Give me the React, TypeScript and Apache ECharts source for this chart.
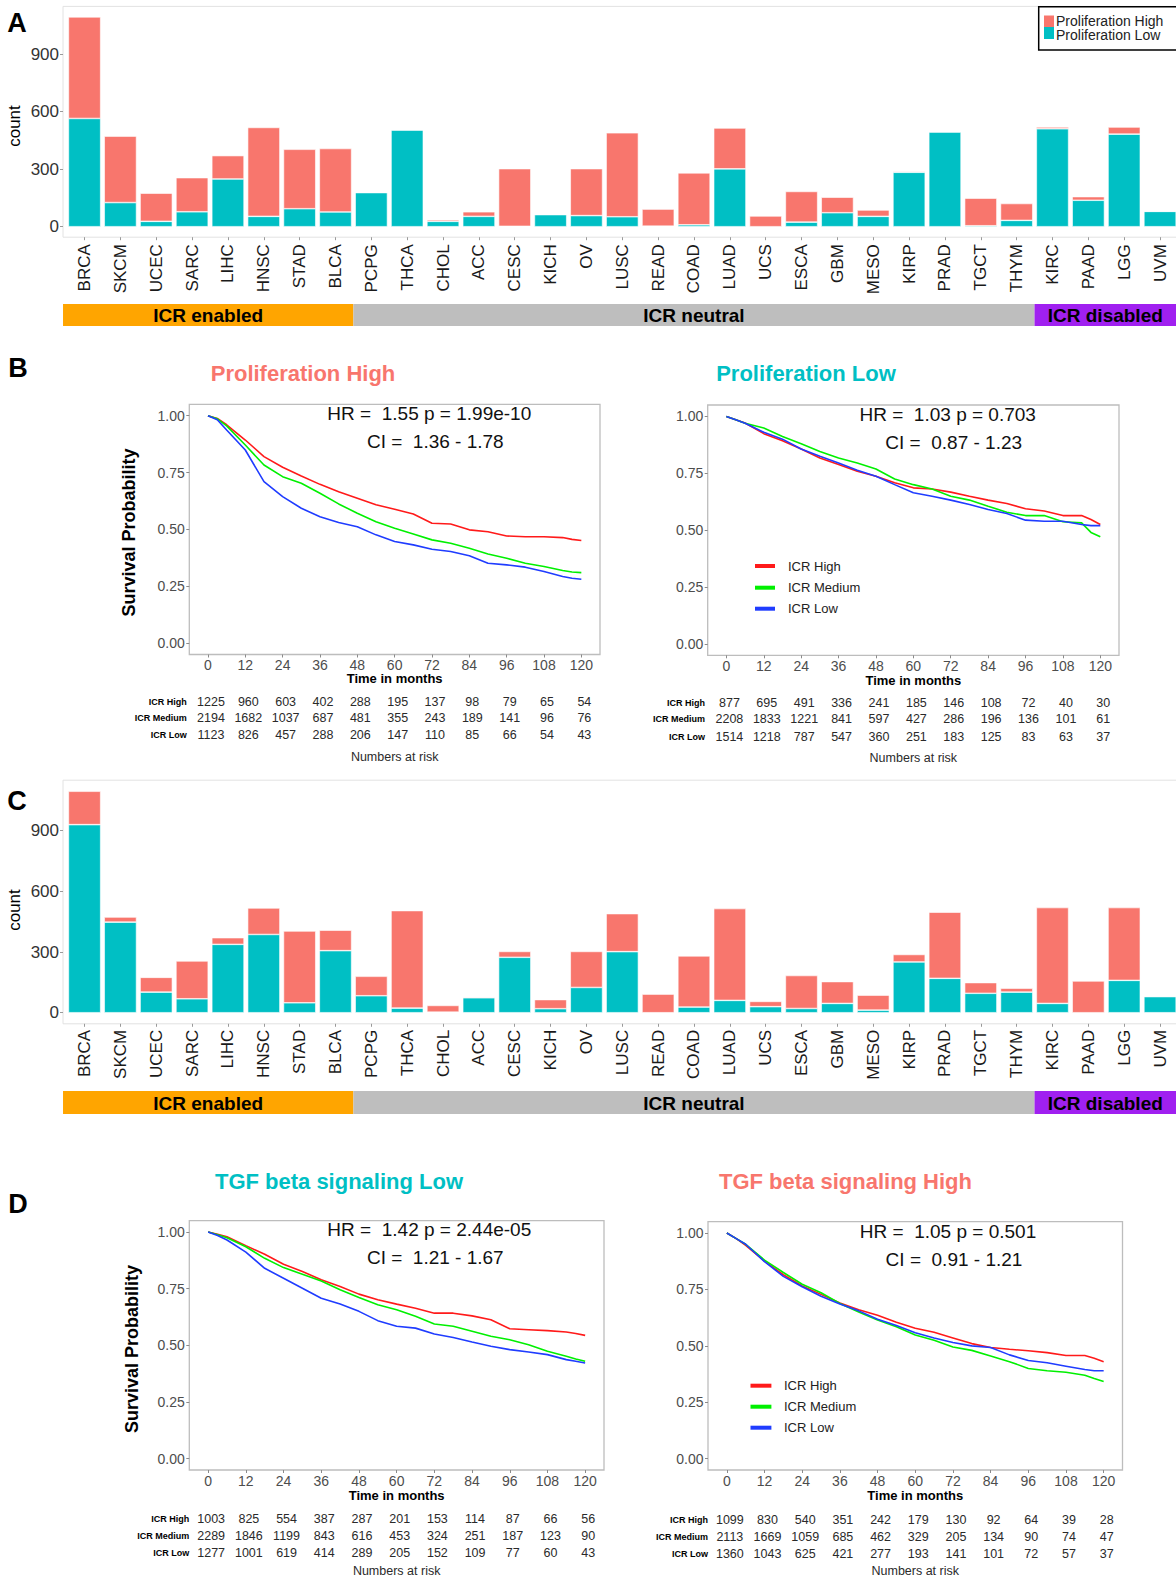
import React, { useEffect, useRef } from "react";
import * as echarts from "echarts";

// ---------------- DATA ----------------
const cancerTypes = [
  "BRCA", "SKCM", "UCEC", "SARC", "LIHC", "HNSC", "STAD", "BLCA", "PCPG", "THCA", "CHOL",
  "ACC", "CESC", "KICH", "OV", "LUSC", "READ", "COAD", "LUAD", "UCS", "ESCA", "GBM",
  "MESO", "KIRP", "PRAD", "TGCT", "THYM", "KIRC", "PAAD", "LGG", "UVM",
];
// Panel A: Proliferation
const profLow = [565, 126, 28, 78, 249, 54, 94, 77, 178, 505, 28, 54, 2, 63, 58, 52, 3, 10, 302, 0, 24, 73, 54, 284, 494, 5, 33, 511, 138, 483, 80];
const profHigh = [530, 347, 147, 178, 122, 464, 310, 331, 2, 0, 8, 24, 301, 2, 245, 438, 89, 271, 213, 56, 160, 81, 33, 4, 3, 144, 88, 9, 19, 37, 0];
// Panel C: TGF beta signaling
const tgfLow = [930, 448, 102, 69, 338, 387, 49, 307, 84, 23, 3, 74, 274, 20, 125, 302, 0, 28, 61, 30, 21, 46, 13, 251, 170, 96, 102, 46, 0, 160, 80];
const tgfHigh = [165, 25, 73, 187, 33, 131, 355, 101, 96, 482, 33, 4, 29, 45, 178, 188, 92, 253, 454, 26, 163, 108, 74, 37, 327, 53, 19, 474, 157, 360, 0];

const countTicks = [0, 300, 600, 900];
const icrGroups = [
  { label: "ICR enabled", from: 0, to: 8, color: "#FFA500" },
  { label: "ICR neutral", from: 8, to: 27, color: "#BEBEBE" },
  { label: "ICR disabled", from: 27, to: 31, color: "#A020F0" },
];

// Kaplan-Meier curves (time in months)
const kmTimes = [0, 3, 6, 12, 18, 24, 30, 36, 42, 48, 54, 60, 66, 72, 78, 84, 90, 96, 102, 108, 114, 117, 120];
const timeTicks = [0, 12, 24, 36, 48, 60, 72, 84, 96, 108, 120];
const probTicks = [0, 0.25, 0.5, 0.75, 1];

const bLeftHigh = [1, 0.988, 0.96, 0.893, 0.82, 0.773, 0.735, 0.698, 0.666, 0.637, 0.608, 0.589, 0.568, 0.527, 0.524, 0.498, 0.49, 0.471, 0.468, 0.468, 0.464, 0.456, 0.451];
const bLeftMed = [1, 0.986, 0.955, 0.871, 0.783, 0.732, 0.703, 0.659, 0.612, 0.571, 0.534, 0.505, 0.48, 0.454, 0.439, 0.417, 0.392, 0.373, 0.351, 0.337, 0.319, 0.313, 0.31];
const bLeftLow = [1, 0.982, 0.937, 0.849, 0.71, 0.644, 0.593, 0.556, 0.53, 0.512, 0.476, 0.447, 0.432, 0.413, 0.403, 0.384, 0.351, 0.344, 0.334, 0.315, 0.293, 0.285, 0.281];

const bRightHigh = [1, 0.985, 0.971, 0.924, 0.893, 0.857, 0.817, 0.788, 0.759, 0.737, 0.708, 0.686, 0.681, 0.667, 0.649, 0.632, 0.617, 0.594, 0.584, 0.564, 0.564, 0.547, 0.525];
const bRightMed = [1, 0.985, 0.97, 0.949, 0.912, 0.88, 0.846, 0.817, 0.795, 0.769, 0.725, 0.7, 0.681, 0.649, 0.632, 0.605, 0.579, 0.564, 0.564, 0.537, 0.532, 0.49, 0.471];
const bRightLow = [1, 0.985, 0.97, 0.93, 0.9, 0.857, 0.825, 0.795, 0.763, 0.737, 0.7, 0.664, 0.649, 0.632, 0.613, 0.591, 0.573, 0.544, 0.539, 0.539, 0.525, 0.52, 0.52];

const dLeftHigh = [1, 0.99, 0.979, 0.94, 0.902, 0.858, 0.826, 0.789, 0.76, 0.726, 0.701, 0.682, 0.664, 0.642, 0.642, 0.63, 0.613, 0.573, 0.569, 0.565, 0.559, 0.552, 0.544];
const dLeftMed = [1, 0.988, 0.975, 0.935, 0.884, 0.843, 0.814, 0.784, 0.745, 0.711, 0.679, 0.657, 0.628, 0.594, 0.584, 0.562, 0.54, 0.525, 0.503, 0.474, 0.452, 0.44, 0.43];
const dLeftLow = [1, 0.985, 0.965, 0.911, 0.84, 0.796, 0.752, 0.708, 0.682, 0.65, 0.609, 0.584, 0.576, 0.55, 0.535, 0.515, 0.496, 0.481, 0.471, 0.459, 0.437, 0.43, 0.422];

const dRightHigh = [1, 0.975, 0.945, 0.875, 0.815, 0.765, 0.728, 0.69, 0.66, 0.636, 0.605, 0.578, 0.56, 0.535, 0.51, 0.493, 0.485, 0.478, 0.47, 0.457, 0.457, 0.445, 0.43];
const dRightMed = [1, 0.975, 0.95, 0.88, 0.825, 0.773, 0.735, 0.688, 0.65, 0.614, 0.585, 0.548, 0.525, 0.495, 0.48, 0.455, 0.43, 0.4, 0.39, 0.383, 0.37, 0.355, 0.342];
const dRightLow = [1, 0.975, 0.95, 0.873, 0.808, 0.762, 0.72, 0.685, 0.655, 0.618, 0.59, 0.558, 0.535, 0.515, 0.5, 0.493, 0.46, 0.435, 0.425, 0.41, 0.395, 0.39, 0.39];

// Numbers at risk
const riskBLeft = [
  [1225, 960, 603, 402, 288, 195, 137, 98, 79, 65, 54],
  [2194, 1682, 1037, 687, 481, 355, 243, 189, 141, 96, 76],
  [1123, 826, 457, 288, 206, 147, 110, 85, 66, 54, 43],
];
const riskBRight = [
  [877, 695, 491, 336, 241, 185, 146, 108, 72, 40, 30],
  [2208, 1833, 1221, 841, 597, 427, 286, 196, 136, 101, 61],
  [1514, 1218, 787, 547, 360, 251, 183, 125, 83, 63, 37],
];
const riskDLeft = [
  [1003, 825, 554, 387, 287, 201, 153, 114, 87, 66, 56],
  [2289, 1846, 1199, 843, 616, 453, 324, 251, 187, 123, 90],
  [1277, 1001, 619, 414, 289, 205, 152, 109, 77, 60, 43],
];
const riskDRight = [
  [1099, 830, 540, 351, 242, 179, 130, 92, 64, 39, 28],
  [2113, 1669, 1059, 685, 462, 329, 205, 134, 90, 74, 47],
  [1360, 1043, 625, 421, 277, 193, 141, 101, 72, 57, 37],
];
const icrNames = ["ICR High", "ICR Medium", "ICR Low"];

// ---------------- STYLE / LAYOUT ----------------
const RED = "#F8766D";
const TEAL = "#00BFC4";
const KM_COLORS = ["#FF1A1A", "#00F000", "#1F3CFF"];
const FONT = "'Liberation Sans', Arial, Helvetica, sans-serif";

const CAT_W = 35.85;
const GRID_L = 66.6;
const Y_MIN = -54.75;
const Y_MAX = 1149.75;

const kmPanels = [
  {
    title: "Proliferation High", titleColor: RED, titleX: 303, titleY: 373,
    left: 189.3, top: 404.3, width: 410.7, height: 250.2,
    curves: [bLeftHigh, bLeftMed, bLeftLow], risk: riskBLeft,
    hr: "HR =  1.55 p = 1.99e-10", ci: "CI =  1.36 - 1.78",
    hrY: 413.3, ciY: 441.7, yTitle: [129.3, 532.5], legend: null,
    rowYs: [701.7, 718.3, 735], labelRight: 186.7, narY: 756.7, timY: 678.3,
  },
  {
    title: "Proliferation Low", titleColor: TEAL, titleX: 806, titleY: 373,
    left: 707.7, top: 405, width: 411.3, height: 250.3,
    curves: [bRightHigh, bRightMed, bRightLow], risk: riskBRight,
    hr: "HR =  1.03 p = 0.703", ci: "CI =  0.87 - 1.23",
    hrY: 414.3, ciY: 442.7, yTitle: null, legend: { x1: 755, x2: 775, tx: 788, ys: [566, 587.7, 608.7] },
    rowYs: [702.7, 719.3, 736.7], labelRight: 705, narY: 758.3, timY: 680,
  },
  {
    title: "TGF beta signaling Low", titleColor: TEAL, titleX: 339, titleY: 1181,
    left: 189.3, top: 1220.7, width: 414.7, height: 249.3,
    curves: [dLeftHigh, dLeftMed, dLeftLow], risk: riskDLeft,
    hr: "HR =  1.42 p = 2.44e-05", ci: "CI =  1.21 - 1.67",
    hrY: 1229, ciY: 1257.7, yTitle: [132.3, 1349], legend: null,
    rowYs: [1519.3, 1536, 1553.3], labelRight: 189.3, narY: 1570.5, timY: 1495,
  },
  {
    title: "TGF beta signaling High", titleColor: RED, titleX: 845.5, titleY: 1181,
    left: 708, top: 1221.7, width: 414.5, height: 248.3,
    curves: [dRightHigh, dRightMed, dRightLow], risk: riskDRight,
    hr: "HR =  1.05 p = 0.501", ci: "CI =  0.91 - 1.21",
    hrY: 1231, ciY: 1259.3, yTitle: null, legend: { x1: 750.5, x2: 771.4, tx: 784, ys: [1385.7, 1406.7, 1427.7] },
    rowYs: [1520.3, 1537.3, 1554], labelRight: 708, narY: 1570.8, timY: 1495.7,
  },
];

function txt(x: number, y: number, text: string, size: number, o: any = {}) {
  return {
    type: "text",
    x,
    y,
    rotation: o.rotation || 0,
    silent: true,
    z: 10,
    style: {
      text,
      fontSize: size,
      fontFamily: FONT,
      fontWeight: o.bold ? "bold" : "normal",
      fill: o.color || "#000",
      align: o.align || "center",
      verticalAlign: "middle",
    },
  };
}

function buildOption() {
  const grids: any[] = [];
  const xAxes: any[] = [];
  const yAxes: any[] = [];
  const series: any[] = [];
  const graphic: any[] = [];

  // ---- bar panels A and C ----
  const barPanels = [
    { top: 6.4, height: 230.8, low: profLow, high: profHigh, stack: "prof", labelMargin: 7, band: [304, 326], countY: 126 },
    { top: 780.2, height: 243.6, low: tgfLow, high: tgfHigh, stack: "tgf", labelMargin: 6, band: [1091, 1114], countY: 910 },
  ];
  barPanels.forEach((p, i) => {
    grids.push({ left: GRID_L, top: p.top, width: CAT_W * cancerTypes.length, height: p.height, outerBoundsMode: "none" });
    xAxes.push({
      type: "category", gridIndex: i, data: cancerTypes,
      axisLine: { show: false, onZero: false },
      axisTick: { show: true, alignWithLabel: true, length: 3, lineStyle: { color: "#9A9A9A" } },
      axisLabel: { rotate: 90, fontSize: 17, color: "#1A1A1A", fontFamily: FONT, margin: p.labelMargin, interval: 0 },
    });
    yAxes.push({
      type: "value", gridIndex: i, min: Y_MIN, max: Y_MAX, offset: 3.6,
      splitLine: { show: false },
      axisLine: { show: false, onZero: false },
      axisTick: { show: true, length: 3, customValues: countTicks, lineStyle: { color: "#9A9A9A" } },
      axisLabel: { customValues: countTicks, fontSize: 17, color: "#333", fontFamily: FONT, margin: 4 },
    });
    series.push({
      type: "bar", name: "Proliferation Low", xAxisIndex: i, yAxisIndex: i, stack: p.stack, data: p.low,
      barWidth: "90%", itemStyle: { color: TEAL, borderColor: "#fff", borderWidth: 0.6 },
    });
    series.push({
      type: "bar", name: "Proliferation High", xAxisIndex: i, yAxisIndex: i, stack: p.stack, data: p.high,
      barWidth: "90%", itemStyle: { color: RED, borderColor: "#fff", borderWidth: 0.6 },
    });
    const panelLeft = GRID_L - 0.1 * CAT_W;
    graphic.push({
      type: "rect", silent: true, z: 0,
      shape: { x: panelLeft, y: p.top, width: 1200, height: p.height },
      style: { fill: "none", stroke: "#E2E2E2", lineWidth: 1 },
    });
    // ICR bands
    icrGroups.forEach((g) => {
      const x0 = g.from === 0 ? panelLeft : GRID_L + g.from * CAT_W;
      const x1 = g.to === cancerTypes.length ? 1200 : GRID_L + g.to * CAT_W;
      graphic.push({
        type: "rect", silent: true, z: 5,
        shape: { x: x0, y: p.band[0], width: x1 - x0, height: p.band[1] - p.band[0] },
        style: { fill: g.color },
      });
      const cx = g.to === cancerTypes.length ? (x0 + 1176) / 2 : (x0 + x1) / 2;
      graphic.push(txt(cx, (p.band[0] + p.band[1]) / 2 + 0.5, g.label, 19, { bold: true }));
    });
    graphic.push(txt(14, p.countY, "count", 17, { rotation: Math.PI / 2 }));
  });

  // legend of panel A
  graphic.push({
    type: "rect", silent: true, z: 6,
    shape: { x: 1038.7, y: 6.7, width: 150, height: 43.3 },
    style: { fill: "#fff", stroke: "#000", lineWidth: 1.5 },
  });
  graphic.push({ type: "rect", silent: true, z: 7, shape: { x: 1044, y: 15.5, width: 10, height: 11.5 }, style: { fill: RED } });
  graphic.push({ type: "rect", silent: true, z: 7, shape: { x: 1044, y: 27, width: 10, height: 12 }, style: { fill: TEAL } });
  graphic.push(txt(1056, 21, "Proliferation High", 14, { align: "left", color: "#222" }));
  graphic.push(txt(1056, 35, "Proliferation Low", 14, { align: "left", color: "#222" }));

  // panel letters
  graphic.push(txt(17, 23, "A", 27, { bold: true }));
  graphic.push(txt(18, 368, "B", 27, { bold: true }));
  graphic.push(txt(17, 801, "C", 27, { bold: true }));
  graphic.push(txt(18, 1204, "D", 27, { bold: true }));

  // ---- KM panels ----
  kmPanels.forEach((p, k) => {
    const gi = k + 2;
    grids.push({
      left: p.left, top: p.top, width: p.width, height: p.height, show: true,
      borderColor: "#BDBDBD", borderWidth: 1.3, backgroundColor: "rgba(0,0,0,0)", outerBoundsMode: "none",
    });
    xAxes.push({
      type: "value", gridIndex: gi, min: -6, max: 126,
      splitLine: { show: false }, axisLine: { show: false, onZero: false },
      axisTick: { show: true, length: 3, customValues: timeTicks, lineStyle: { color: "#8A8A8A" } },
      axisLabel: { customValues: timeTicks, fontSize: 14, color: "#4D4D4D", fontFamily: FONT, margin: 3.5 },
    });
    yAxes.push({
      type: "value", gridIndex: gi, min: -0.05, max: 1.05,
      splitLine: { show: false }, axisLine: { show: false, onZero: false },
      axisTick: { show: true, length: 3, customValues: probTicks, lineStyle: { color: "#8A8A8A" } },
      axisLabel: {
        customValues: probTicks, fontSize: 14, color: "#4D4D4D", fontFamily: FONT, margin: 4.5,
        formatter: (v: number) => v.toFixed(2),
      },
    });
    p.curves.forEach((vals, c) => {
      series.push({
        type: "line", name: icrNames[c], xAxisIndex: gi, yAxisIndex: gi,
        data: kmTimes.map((t, j) => [t, vals[j]]),
        symbol: "none", showSymbol: false, z: 3 + c,
        lineStyle: { color: KM_COLORS[c], width: 1.6 },
      });
    });
    const xPix = (t: number) => p.left + ((t + 6) / 132) * p.width;
    const cx = p.left + p.width / 2;
    graphic.push(txt(p.titleX, p.titleY, p.title, 22, { bold: true, color: p.titleColor }));
    graphic.push(txt(p.left + 240, p.hrY, p.hr, 19, { color: "#111" }));
    graphic.push(txt(p.left + 246, p.ciY, p.ci, 19, { color: "#111" }));
    if (p.yTitle) graphic.push(txt(p.yTitle[0], p.yTitle[1], "Survival Probability", 18, { bold: true, rotation: Math.PI / 2 }));
    graphic.push(txt(cx, p.timY, "Time in months", 13, { bold: true }));
    p.risk.forEach((row, r) => {
      graphic.push(txt(p.labelRight, p.rowYs[r], icrNames[r], 9, { bold: true, align: "right" }));
      row.forEach((n, j) => {
        graphic.push(txt(xPix(timeTicks[j]) + 3, p.rowYs[r], String(n), 12.5, { color: "#2A2A2A" }));
      });
    });
    graphic.push(txt(cx, p.narY, "Numbers at risk", 12.5, { color: "#2A2A2A" }));
    if (p.legend) {
      const lg = p.legend;
      lg.ys.forEach((y, r) => {
        graphic.push({
          type: "line", silent: true, z: 10,
          shape: { x1: lg.x1, y1: y, x2: lg.x2, y2: y },
          style: { stroke: KM_COLORS[r], lineWidth: 4 },
        });
        graphic.push(txt(lg.tx, y, icrNames[r], 13, { align: "left", color: "#222" }));
      });
    }
  });

  return {
    animation: false,
    backgroundColor: "#fff",
    grid: grids,
    xAxis: xAxes,
    yAxis: yAxes,
    series,
    graphic,
  };
}

export default function App() {
  const ref = useRef<HTMLDivElement>(null);
  useEffect(() => {
    document.body.style.margin = "0";
    const chart = echarts.init(ref.current!, null, { renderer: "svg" });
    chart.setOption(buildOption() as any);
    return () => chart.dispose();
  }, []);
  return (
    <div
      ref={ref}
      style={{ position: "absolute", left: 0, top: 0, width: 1176, height: 1578, background: "#fff" }}
    />
  );
}
